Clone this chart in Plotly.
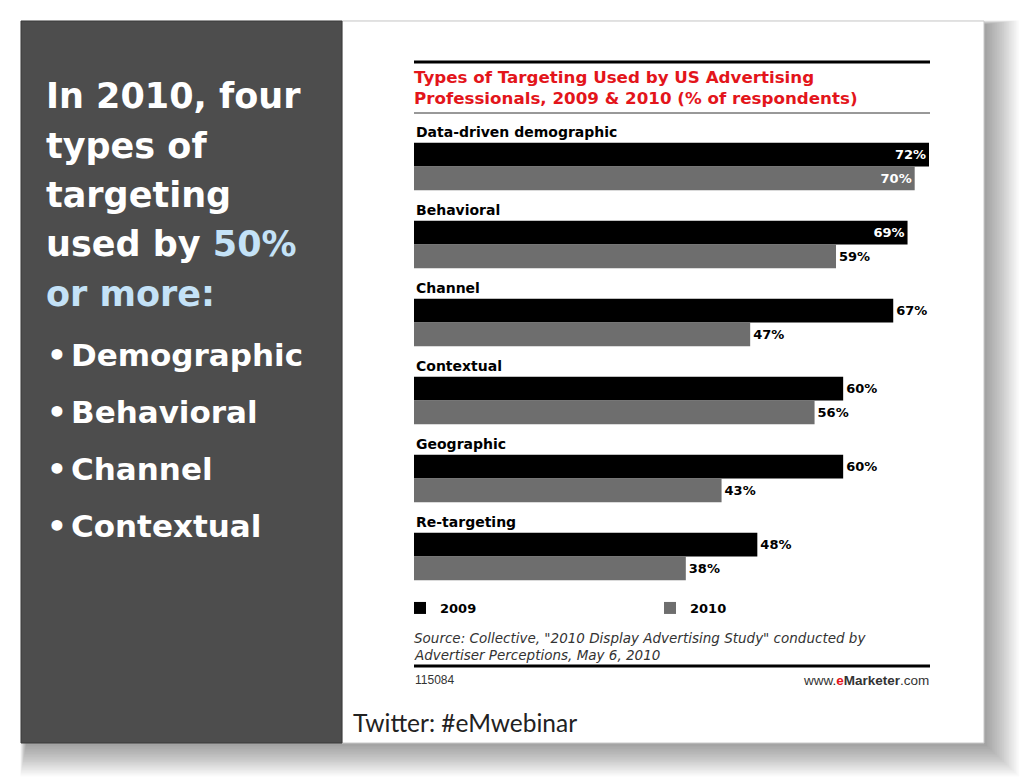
import plotly.graph_objects as go

# ---------------- data ----------------
categories = ["Data-driven demographic", "Behavioral", "Channel",
              "Contextual", "Geographic", "Re-targeting"]
values_2009 = [72, 69, 67, 60, 60, 48]
values_2010 = [70, 59, 47, 56, 43, 38]
series_names = ["2009", "2010"]

title_lines = ["Types of Targeting Used by US Advertising",
               "Professionals, 2009 & 2010 (% of respondents)"]
source_lines = ['Source: Collective, "2010 Display Advertising Study" conducted by',
                "Advertiser Perceptions, May 6, 2010"]
chart_id = "115084"
side_lines = ["In 2010, four", "types of", "targeting",
              "used by <span style='color:#c4e2f7'>50%</span>",
              "<span style='color:#c4e2f7'>or more:</span>"]
bullets = ["Demographic", "Behavioral", "Channel", "Contextual"]

W, H = 1024, 783


def px(x):
    return x / W


def py(y):
    return 1 - y / H


CHART_FONT = "DejaVu Sans, Verdana, sans-serif"
SMALL_FONT = "Liberation Sans, Arial, sans-serif"
HEAVY = "DejaVu Sans, sans-serif"

fig = go.Figure()
colors = ["#000000", "#6e6e6e"]
for name, vals, col in zip(series_names, [values_2009, values_2010], colors):
    fig.add_trace(go.Bar(
        y=categories, x=vals, orientation="h", name=name,
        marker=dict(color=col, line=dict(width=0)),
        texttemplate="%{x}%",
        textposition=["inside" if v >= 68 else "outside" for v in vals],
        insidetextanchor="end",
        insidetextfont=dict(color="white", size=13, family=CHART_FONT, weight="bold"),
        outsidetextfont=dict(color="black", size=13, family=CHART_FONT, weight="bold"),
        textangle=0, constraintext="none", cliponaxis=False,
        hoverinfo="skip",
    ))

shapes = []
# soft drop shadow layers
for k in range(20):
    shapes.append(dict(type="rect", xref="paper", yref="paper", layer="below",
                       x0=px(26 - k * 0.3), x1=px(987 + k * 1.7), y0=py(746 + k * 1.6),
                       y1=py(24 - k * 0.2),
                       fillcolor="rgba(0,0,0,0.02)", line=dict(width=0)))
# slide panels
shapes.append(dict(type="rect", xref="paper", yref="paper", layer="below",
                   x0=px(342), x1=px(984), y0=py(743), y1=py(21),
                   fillcolor="#ffffff", line=dict(color="#c8c8c8", width=1)))
shapes.append(dict(type="rect", xref="paper", yref="paper", layer="below",
                   x0=px(21), x1=px(342), y0=py(743), y1=py(21),
                   fillcolor="#4d4d4d", line=dict(color="#3a3a3a", width=1)))
# chart rules
shapes.append(dict(type="line", xref="paper", yref="paper", x0=px(414), x1=px(930),
                   y0=py(62), y1=py(62), line=dict(color="#000", width=3)))
shapes.append(dict(type="line", xref="paper", yref="paper", x0=px(414), x1=px(930),
                   y0=py(113), y1=py(113), line=dict(color="#333", width=1)))
shapes.append(dict(type="line", xref="paper", yref="paper", x0=px(414), x1=px(930),
                   y0=py(666), y1=py(666), line=dict(color="#000", width=3)))

ann = []
# title
for i, t in enumerate(title_lines):
    ann.append(dict(xref="paper", yref="paper", x=px(412), y=py(77 + 21 * i),
                    xanchor="left", yanchor="middle", showarrow=False, text=t,
                    font=dict(family=CHART_FONT, size=16.7, color="#e3151b", weight="bold")))
# category labels
for c in categories:
    ann.append(dict(xref="x", yref="y", x=0, y=c, yshift=35, xanchor="left",
                    yanchor="middle", showarrow=False, text=c,
                    font=dict(family=CHART_FONT, size=14, color="#000", weight="bold")))
# source
for i, t in enumerate(source_lines):
    ann.append(dict(xref="paper", yref="paper", x=px(412), y=py(638 + 17 * i),
                    xanchor="left", yanchor="middle", showarrow=False, text=t,
                    font=dict(family=CHART_FONT, size=13.5, color="#333", style="italic")))
ann.append(dict(xref="paper", yref="paper", x=px(413), y=py(680), xanchor="left",
                yanchor="middle", showarrow=False, text=chart_id,
                font=dict(family=SMALL_FONT, size=12, color="#333")))
ann.append(dict(xref="paper", yref="paper", x=px(931), y=py(680), xanchor="right",
                yanchor="middle", showarrow=False,
                text="www.<b><span style='color:#e3151b'>e</span>Marketer</b>.com",
                font=dict(family=SMALL_FONT, size=13.5, color="#333")))
ann.append(dict(xref="paper", yref="paper", x=px(351), y=py(722), xanchor="left",
                yanchor="middle", showarrow=False, text="Twitter: #eMwebinar",
                font=dict(family="Lato, Open Sans, sans-serif", size=24.5, color="#222")))
# left panel
for i, t in enumerate(side_lines):
    ann.append(dict(xref="paper", yref="paper", x=px(44), y=py(96 + 49.5 * i),
                    xanchor="left", yanchor="middle", showarrow=False, text=t,
                    font=dict(family=HEAVY, size=35, color="#ffffff", weight="bold")))
for i, t in enumerate(bullets):
    ann.append(dict(xref="paper", yref="paper", x=px(45), y=py(355 + 57 * i),
                    xanchor="left", yanchor="middle", showarrow=False, text="\u2022",
                    font=dict(family=HEAVY, size=31, color="#ffffff", weight="bold")))
    ann.append(dict(xref="paper", yref="paper", x=px(69), y=py(355 + 57 * i),
                    xanchor="left", yanchor="middle", showarrow=False, text=t,
                    font=dict(family=HEAVY, size=31, color="#ffffff", weight="bold")))

fig.update_layout(
    width=W, height=H, margin=dict(l=0, r=0, t=0, b=0),
    paper_bgcolor="#ffffff", plot_bgcolor="rgba(0,0,0,0)",
    barmode="group", bargap=0.392, bargroupgap=0,
    xaxis=dict(domain=[px(414), px(929)], range=[0, 72], visible=False, fixedrange=True),
    yaxis=dict(domain=[py(601.5), py(127.5)], autorange="reversed", visible=False,
               fixedrange=True),
    showlegend=True,
    legend=dict(orientation="h", x=px(400), y=py(608), xanchor="left", yanchor="middle",
                entrywidth=205, entrywidthmode="pixels", traceorder="normal",
                bgcolor="rgba(0,0,0,0)",
                font=dict(family=CHART_FONT, size=13, color="#000", weight="bold"),
                itemclick=False, itemdoubleclick=False),
    shapes=shapes, annotations=ann,
)

fig.write_html("out.html", config={"displayModeBar": False})
